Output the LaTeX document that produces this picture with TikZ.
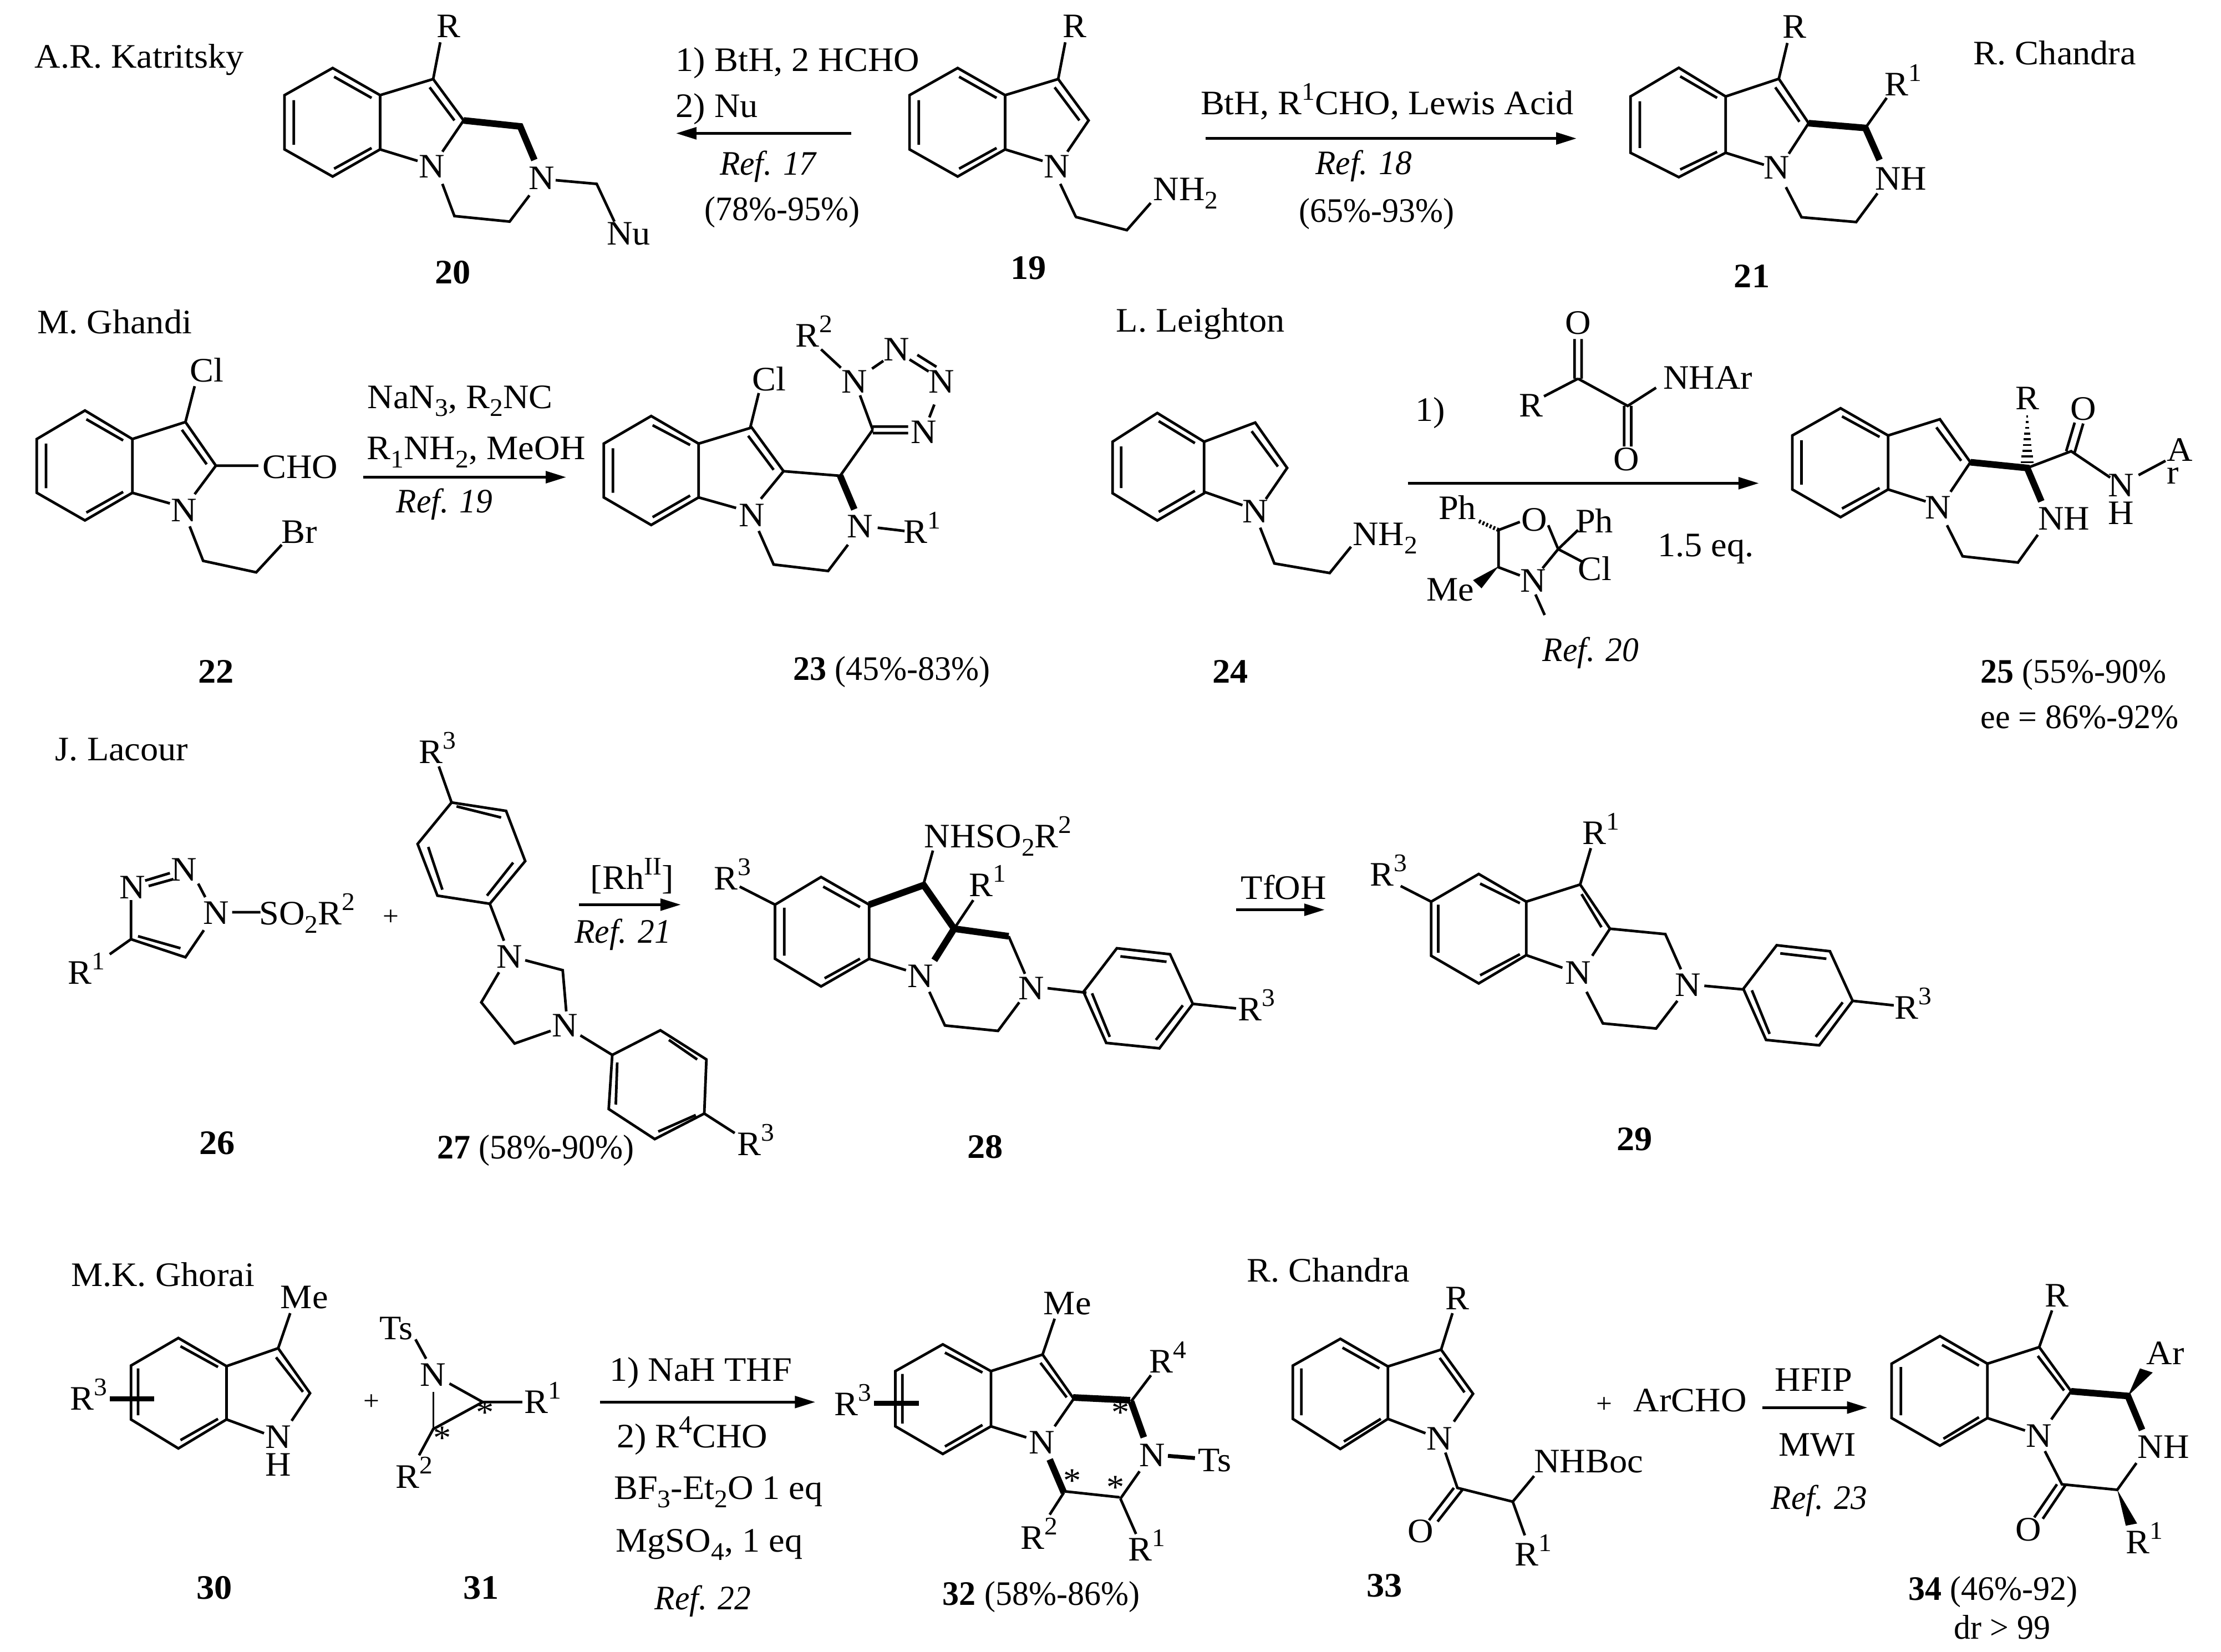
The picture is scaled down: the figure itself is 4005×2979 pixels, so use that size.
\documentclass[tikz,border=0pt]{standalone}
\usepackage{fontspec}
\setmainfont{Liberation Serif}[FakeStretch=1.04]
\newfontfamily\yld{Liberation Serif}[FakeStretch=.97]
\newfontfamily\refi{Liberation Serif}[FakeStretch=.96]
\usetikzlibrary{arrows.meta}
\newcommand\up[1]{\raisebox{.42em}{\fontsize{13}{13}\selectfont #1}}
\newcommand\dn[1]{\raisebox{-.24em}{\fontsize{13}{13}\selectfont #1}}
\newcommand\lb[3]{\node[lab] (#1) at (#2) {#3};}
\newcommand\rf[1]{{\refi\itshape Ref. #1}}
\newcommand\pls{{\fontsize{14}{14}\selectfont +}}
\newcommand\rxn[4]{\coordinate (#1s) at (#2); \coordinate (#1e) at (#3); \draw[rxnarrow] (#1s) -- (#1e);}
\tikzset{
  bond/.style={line width=1.35pt},
  bold/.style={line width=3.4pt},
  hash/.style={line width=1.1pt},
  lab/.style={anchor=base,inner sep=0pt,outer sep=0pt,font=\fontsize{17.6}{21}\selectfont},
  rxnarrow/.style={line width=1.5pt,-{Triangle[length=10.5pt,width=6pt]}},
  zA/.style={x=0.012755cm,y=-0.008291cm},
  zB/.style={shift={(20cm,0)},x=0.012787cm,y=-0.008610cm},
  zC/.style={shift={(0,-13cm)},x=0.012755cm,y=-0.005421cm},
  zD/.style={shift={(20cm,-13cm)},x=0.012787cm,y=-0.005421cm},
  zE/.style={shift={(0,-22cm)},x=0.012755cm,y=-0.004968cm},
  zF/.style={shift={(20cm,-22cm)},x=0.012787cm,y=-0.004968cm},
}
\begin{document}
\begin{tikzpicture}[x=0.01cm,y=-0.01cm]
\useasboundingbox (0,0) rectangle (4005,2979);
\fill[white] (0,0) rectangle (4005,2979);
% ---- joints across zoom panels
\draw[bond] (1939,391)--(2032,415)--(2075,366);
\draw[bold] (1935,2520)--(2038,2525);
\draw[bond] (1917,2689)--(2019,2700);
%
\begin{scope}[zA]
\lb{t1}{197,148}{A.R. Katritsky}
% 20
\lb{c20R}{634,82}{R}
\draw[bond] (470,148)--(537,207)--(537,325)--(470,384)--(402,325)--(402,207)--cycle;
\draw[bond] (472,167)--(525,213) (415,218)--(415,315) (525,322)--(472,367);
\draw[bond] (537,207)--(612,172)--(655,262)--(625,330) (607,190)--(642,262) (537,325)--(590,350) (612,172)--(622,92);
\draw[bold] (655,262)--(735,275)--(755,348);
\lb{c20N}{610,387}{N}
\lb{c20Nb}{765,412}{N}
\draw[bond] (625,400)--(642,470)--(720,482)--(748,425) (785,392)--(843,400)--(868,482);
\lb{c20Nu}{888,533}{Nu}
\lb{c20}{640,617}{\textbf{20}}
\lb{r1a}{1127,155}{1) BtH, 2 HCHO}
\lb{r1b}{1013,255}{2) Nu}
\rxn{ar1}{1203,290}{955,290}{}
\lb{r1c}{1085,380}{\rf{17}}
\lb{r1d}{1105,480}{\yld(78\%-95\%)}
% 19
\draw[bond] (1353,148)--(1420,207)--(1420,325)--(1353,384)--(1285,325)--(1285,207)--cycle;
\draw[bond] (1355,167)--(1408,213) (1298,218)--(1298,315) (1408,322)--(1355,367);
\draw[bond] (1420,207)--(1495,172)--(1538,262)--(1508,330) (1490,190)--(1525,262) (1420,325)--(1473,350) (1495,172)--(1505,92) (1498,400)--(1520,472);
\lb{c19R}{1518,82}{R}
\lb{c19N}{1493,387}{N}
\lb{c19}{1453,607}{\textbf{19}}
% 22
\lb{t3}{162,725}{M. Ghandi}
\lb{c22Cl}{292,830}{Cl}
\draw[bond] (120,893)--(187,955)--(187,1072)--(120,1132)--(52,1072)--(52,955)--cycle;
\draw[bond] (122,912)--(174,958) (65,965)--(65,1062) (174,1070)--(122,1115);
\draw[bond] (187,955)--(262,918)--(305,1013)--(275,1075) (257,935)--(292,1010) (187,1072)--(240,1095) (262,918)--(275,840) (305,1013)--(365,1013) (268,1145)--(287,1220)--(362,1245)--(398,1185);
\lb{c22C}{424,1040}{CHO}
\lb{c22N}{260,1135}{N}
\lb{c22Br}{423,1182}{Br}
\lb{c22}{305,1485}{\textbf{22}}
\lb{r3a}{650,888}{NaN\dn{3}, R\dn{2}NC}
\lb{r3b}{673,1000}{R\dn{1}NH\dn{2}, MeOH}
\rxn{ar3}{513,1038}{800,1038}{}
\lb{r3c}{628,1115}{\rf{19}}
% 23
\lb{c23Cl}{1087,850}{Cl}
\draw[bond] (920,905)--(987,965)--(987,1082)--(920,1142)--(853,1082)--(853,965)--cycle;
\draw[bond] (922,925)--(975,968) (866,975)--(866,1072) (975,1078)--(922,1125);
\draw[bond] (987,965)--(1062,930)--(1107,1025)--(1075,1085) (1057,948)--(1093,1022) (987,1082)--(1040,1105) (1060,930)--(1072,855) (1107,1025)--(1187,1035) (1072,1155)--(1093,1228)--(1170,1242)--(1198,1185) (1240,1148)--(1278,1155);
\draw[bold] (1187,1035)--(1207,1108);
\lb{c23N}{1062,1145}{N}
\lb{c23Nb}{1215,1170}{N}
\lb{c23R}{1303,1182}{R\up{1}}
\draw[bond] (1187,1035)--(1233,935) (1233,928)--(1283,928) (1233,942)--(1283,942) (1320,880)--(1313,908) (1285,782)--(1312,808) (1296,772)--(1323,798) (1248,785)--(1232,802) (1215,860)--(1233,935) (1160,760)--(1188,800);
\lb{c23N1}{1305,965}{N}
\lb{c23N2}{1330,855}{N}
\lb{c23N3}{1267,785}{N}
\lb{c23N4}{1207,855}{N}
\lb{c23Rb}{1150,755}{R\up{2}}
\lb{c23}{1260,1480}{\yld\textbf{23} (45\%-83\%)}
\end{scope}
%
\begin{scope}[zB]
\lb{c19NH}{107,420}{NH\dn{2}}
\lb{r2a}{391,240}{BtH, R\up{1}CHO, Lewis Acid}
\rxn{ar2}{135,290}{658,290}{}
\lb{r2b}{358,365}{\rf{18}}
\lb{r2c}{376,465}{\yld(65\%-93\%)}
% 21
\draw[bond] (802,142)--(868,202)--(868,320)--(802,371)--(734,320)--(734,202)--cycle;
\draw[bond] (804,160)--(856,205) (747,212)--(747,310) (856,318)--(804,355);
\draw[bond] (868,202)--(943,165)--(985,258)--(957,322) (938,183)--(972,255) (868,320)--(922,345) (943,165)--(955,90) (1065,268)--(1095,205) (953,392)--(975,455)--(1052,465)--(1082,405);
\draw[bold] (985,258)--(1065,268)--(1085,335);
\lb{c21R}{965,80}{R}
\lb{c21N}{940,375}{N}
\lb{c21Ra}{1118,200}{R\up{1}}
\lb{c21NH}{1115,398}{NH}
\lb{t2}{1332,135}{R. Chandra}
\lb{c21}{905,602}{\textbf{21}}
% reagents
\lb{t4}{128,695}{L. Leighton}
\lb{oxO}{660,700}{O}
\lb{oxR}{594,873}{R}
\lb{oxN}{843,815}{NHAr}
\lb{oxOb}{728,985}{O}
\lb{oxn}{452,882}{1)}
\draw[bond] (655,710)--(655,793) (665,710)--(665,793) (660,793)--(730,850)--(770,812) (660,793)--(612,830) (725,850)--(725,935) (735,850)--(735,935);
\rxn{ar4}{420,1012}{915,1012}{}
% 24
\draw[bond] (67,865)--(133,925)--(133,1033)--(67,1090)--(4,1033)--(4,925)--cycle;
\draw[bond] (69,882)--(120,928) (16,935)--(16,1022) (120,1028)--(69,1072);
\draw[bond] (133,925)--(205,885)--(250,980)--(220,1045) (200,903)--(237,977) (133,1030)--(187,1058) (212,1105)--(232,1180)--(310,1200)--(340,1145);
\lb{c24N}{205,1095}{N}
\lb{c24NH}{388,1142}{NH\dn{2}}
\lb{c24}{170,1430}{\textbf{24}}
% oxazolidine
\lb{oPh}{490,1088}{Ph}
\lb{oO}{598,1112}{O}
\lb{oPhb}{683,1115}{Ph}
\lb{oCl}{684,1215}{Cl}
\lb{oN}{597,1240}{N}
\lb{oMe}{480,1258}{Me}
\draw[bond] (548,1110)--(578,1093) (618,1100)--(632,1150)--(660,1110) (632,1150)--(668,1178) (632,1150)--(610,1190) (548,1110)--(548,1188)--(578,1205) (600,1245)--(613,1288);
\draw[line width=2pt,dash pattern=on 1pt off 1pt] (548,1110)--(518,1090);
\fill (548,1186)--(512,1215)--(524,1232)--cycle;
\lb{r4b}{840,1165}{1.5 eq.}
\lb{r4c}{678,1385}{\rf{20}}
% 25
\draw[bond] (1030,855)--(1097,912)--(1097,1025)--(1030,1083)--(962,1025)--(962,912)--cycle;
\draw[bond] (1032,872)--(1085,915) (975,922)--(975,1015) (1085,1022)--(1032,1065);
\draw[bond] (1097,912)--(1170,878)--(1213,968)--(1185,1030) (1165,895)--(1200,965) (1097,1025)--(1150,1050) (1293,980)--(1355,945)--(1410,1000) (1348,945)--(1360,885) (1360,947)--(1372,887) (1450,995)--(1488,965) (1180,1100)--(1202,1165)--(1280,1178)--(1308,1120);
\draw[bold] (1213,968)--(1293,980)--(1313,1050);
\foreach \yy/\hw in {968/9,956/8,944/7,932/6,920/5,908/4,896/3,884/2,872/1.5}
  \draw[hash] ({1293-\hw},\yy)--({1293+\hw},\yy);
\lb{c25N}{1167,1087}{N}
\lb{c25R}{1293,858}{R}
\lb{c25O}{1372,880}{O}
\lb{c25Nb}{1425,1040}{N}
\lb{c25H}{1425,1098}{H}
\lb{c25A}{1508,966}{A}
\lb{c25r}{1498,1013}{r}
\lb{c25NH}{1345,1110}{NH}
\lb{c25}{1358,1430}{\yld\textbf{25} (55\%-90\%}
\lb{c25b}{1367,1525}{\yld ee = 86\%-92\%}
\end{scope}
%
\begin{scope}[zC]
\lb{t5}{172,130}{J. Lacour}
% 26
\lb{c26Na}{187,590}{N}
\lb{c26Nb}{260,530}{N}
\lb{c26Nc}{305,675}{N}
\lb{c26S}{434,677}{SO\dn{2}R\up{2}}
\lb{c26R}{122,875}{R\up{1}}
\draw[bond] (205,530)--(240,505) (210,548)--(245,525) (280,540)--(290,585) (328,635)--(368,635) (185,595)--(185,725)--(262,785)--(288,695) (195,715)--(255,755) (185,725)--(155,775);
\lb{c26}{307,1440}{\textbf{26}}
\lb{pl1}{552,678}{\pls}
% 27
\lb{c27Ra}{618,140}{R\up{3}}
\draw[bond] (620,150)--(638,270);
\draw[bond] (638,270)--(715,298)--(742,465)--(692,607)--(618,580)--(590,408)--cycle;
\draw[bond] (645,283)--(708,320) (725,470)--(688,580) (605,418)--(625,560);
\draw[bond] (692,607)--(712,730) (742,795)--(795,828)--(800,965) (705,835)--(680,935)--(727,1072)--(778,1030) (820,1045)--(865,1110);
\lb{c27Na}{720,820}{N}
\lb{c27Nb}{798,1050}{N}
\draw[bond] (865,1110)--(933,1028)--(998,1125)--(995,1305)--(925,1390)--(860,1290)--cycle;
\draw[bond] (945,1060)--(985,1125) (983,1310)--(930,1365) (872,1135)--(870,1275) (995,1305)--(1038,1370);
\lb{c27Rb}{1068,1445}{R\up{3}}
\lb{c27}{757,1455}{\yld\textbf{27} (58\%-90\%)}
\lb{c28}{1392,1453}{\textbf{28}}
\lb{r5a}{893,558}{[Rh\up{II}]}
\rxn{ar5}{818,610}{962,610}{}
\lb{r5b}{880,737}{\rf{21}}
% 28
\lb{c28Ra}{1035,560}{R\up{3}}
\draw[bond] (1045,550)--(1095,610);
\draw[bond] (1160,518)--(1228,610)--(1228,790)--(1160,882)--(1095,790)--(1095,610)--cycle;
\draw[bond] (1163,550)--(1215,618) (1108,620)--(1108,780) (1215,790)--(1165,855);
\lb{c28S}{1410,420}{NHSO\dn{2}R\up{2}}
\draw[bond] (1318,430)--(1305,540) (1348,690)--(1375,595) (1228,790)--(1280,828) (1425,715)--(1448,840) (1313,900)--(1335,1012)--(1410,1030)--(1440,935) (1480,888)--(1535,903);
\draw[bold] (1228,610)--(1305,545)--(1348,690)--(1425,715) (1348,690)--(1320,795);
\lb{c28R}{1395,582}{R\up{1}}
\lb{c28N}{1300,885}{N}
\lb{c28Nb}{1457,925}{N}
\end{scope}
%
\begin{scope}[zD]
% 28 aryl
\draw[bond] (-37,900)--(10,755)--(85,775)--(117,940)--(70,1088)--(-5,1070)--cycle;
\draw[bond] (15,782)--(80,800) (103,945)--(65,1060) (-25,905)--(0,1050) (117,940)--(178,955);
\lb{c28Rc}{207,995}{R\up{3}}
\lb{r6}{245,592}{TfOH}
\rxn{ar6}{178,627}{303,627}{}
% 29
\lb{c29Ra}{692,410}{R\up{1}}
\lb{c29Rb}{393,548}{R\up{3}}
\draw[bond] (678,422)--(663,543) (410,548)--(453,600);
\draw[bond] (520,508)--(587,600)--(587,778)--(520,872)--(453,780)--(453,600)--cycle;
\draw[bond] (522,540)--(578,605) (463,610)--(463,770) (578,775)--(522,845);
\draw[bond] (587,600)--(663,543)--(705,690)--(680,780) (665,575)--(693,685) (587,778)--(638,820) (705,690)--(783,708)--(805,825) (672,900)--(695,1005)--(770,1022)--(800,930) (838,880)--(893,892);
\lb{c29N}{660,875}{N}
\lb{c29Nb}{815,915}{N}
\draw[bond] (893,890)--(940,745)--(1015,765)--(1047,930)--(1000,1078)--(925,1060)--cycle;
\draw[bond] (945,772)--(1010,790) (1033,935)--(995,1050) (905,895)--(930,1040) (1047,930)--(1105,945);
\lb{c29Rc}{1132,990}{R\up{3}}
\lb{c29}{740,1428}{\textbf{29}}
\end{scope}
%
\begin{scope}[zE]
\lb{t6}{230,237}{M.K. Ghorai}
% 30
\lb{c30Me}{430,318}{Me}
\draw[bond] (410,335)--(393,462);
\draw[bond] (252,425)--(320,527)--(320,720)--(252,825)--(185,720)--(185,525)--cycle;
\draw[bond] (255,455)--(308,530) (195,535)--(195,705) (308,718)--(255,795);
\draw[bond] (320,527)--(393,462)--(438,625)--(412,725) (390,495)--(428,620) (320,720)--(373,770);
\draw[line width=2.6pt] (155,645)--(218,645);
\lb{c30N}{393,825}{N}
\lb{c30H}{393,925}{H}
\lb{c30R}{125,685}{R\up{3}}
\lb{pl2}{525,685}{\pls}
% 31
\lb{c31Ts}{560,430}{Ts}
\lb{c31N}{612,600}{N}
\lb{c31Ra}{767,698}{R\up{1}}
\lb{c31Rb}{585,968}{R\up{2}}
\draw[bond] (587,430)--(602,500) (635,590)--(682,657)--(612,755)--(592,850) (682,657)--(738,657);
\draw[line width=.9pt] (612,620)--(612,755);
\lb{c31s1}{685,735}{*}
\lb{c31s2}{625,828}{*}
\lb{c30}{303,1370}{\textbf{30}}
\lb{c31}{680,1370}{\textbf{31}}
\lb{r7a}{990,582}{1) NaH THF}
\rxn{ar7}{848,657}{1152,657}{}
\lb{r7b}{978,822}{2) R\up{4}CHO}
\lb{r7c}{1015,1010}{BF\dn{3}-Et\dn{2}O 1 eq}
\lb{r7d}{1002,1200}{MgSO\dn{4}, 1 eq}
\lb{r7e}{993,1408}{\rf{22}}
\lb{c32}{1471,1392}{\yld\textbf{32} (58\%-86\%)}
% 32
\lb{c32Me}{1508,340}{Me}
\draw[bond] (1490,355)--(1473,485);
\draw[bond] (1332,448)--(1400,545)--(1400,745)--(1332,845)--(1265,745)--(1265,545)--cycle;
\draw[bond] (1335,478)--(1388,550) (1275,555)--(1275,735) (1388,740)--(1335,818);
\draw[bond] (1400,545)--(1473,485)--(1517,645)--(1490,745) (1470,515)--(1507,640) (1400,745)--(1450,785) (1503,985)--(1483,1065);
\draw[line width=2.6pt] (1235,662)--(1298,662);
\draw[bold] (1483,865)--(1503,985);
\lb{c32N}{1472,845}{N}
\lb{c32Ra}{1205,705}{R\up{3}}
\lb{c32s1}{1515,982}{*}
\lb{c32Rb}{1468,1190}{R\up{2}}
\end{scope}
%
\begin{scope}[zF]
\draw[bold] (30,655)--(48,785);
\draw[bond] (15,1007)--(42,908) (15,1007)--(37,1135) (30,655)--(58,560);
\draw[line width=2pt] (82,852)--(120,860);
\lb{c32Nb}{60,890}{N}
\lb{c32s2}{15,735}{*}
\lb{c32s3}{8,1008}{*}
\lb{c32Rc}{52,1232}{R\up{1}}
\lb{c32Rd}{82,550}{R\up{4}}
\lb{c32Ts}{148,908}{Ts}
\lb{t7}{308,222}{R. Chandra}
% 33
\lb{c33R}{490,322}{R}
\draw[bond] (483,335)--(467,467);
\draw[bond] (325,428)--(392,528)--(392,718)--(325,827)--(258,718)--(258,525)--cycle;
\draw[bond] (328,460)--(380,535) (270,535)--(270,705) (382,718)--(330,800);
\draw[bond] (392,528)--(467,467)--(512,627)--(485,728) (465,497)--(500,622) (392,718)--(445,770) (473,840)--(490,968)--(568,1018)--(598,925) (568,1018)--(585,1140) (485,968)--(450,1085) (497,975)--(462,1090);
\lb{c33N}{465,830}{N}
\lb{c33NH}{675,912}{NHBoc}
\lb{c33Ra}{597,1250}{R\up{1}}
\lb{c33O}{438,1165}{O}
\lb{c33}{387,1362}{\textbf{33}}
\lb{pl3}{697,695}{\pls}
\lb{c33A}{818,692}{ArCHO}
\lb{r8a}{992,618}{HFIP}
\rxn{ar8}{920,677}{1068,677}{}
\lb{r8b}{997,852}{MWI}
\lb{r8c}{1000,1045}{\rf{23}}
% 34
\lb{c34R}{1335,312}{R}
\draw[bond] (1328,325)--(1310,458);
\draw[bond] (1170,418)--(1237,518)--(1237,715)--(1170,815)--(1102,715)--(1102,518)--cycle;
\draw[bond] (1173,450)--(1225,525) (1115,530)--(1115,705) (1225,712)--(1175,790);
\draw[bond] (1237,518)--(1310,458)--(1355,618)--(1327,720) (1308,490)--(1345,615) (1237,715)--(1290,760) (1318,835)--(1342,955)--(1420,975)--(1447,878) (1335,955)--(1303,1075) (1347,958)--(1315,1080);
\draw[bold] (1355,618)--(1435,635)--(1455,758);
\fill (1435,635)--(1452,535)--(1470,550)--cycle;
\fill (1420,975)--(1432,1105)--(1448,1097)--cycle;
\lb{c34N}{1310,820}{N}
\lb{c34Ar}{1488,520}{Ar}
\lb{c34NH}{1485,860}{NH}
\lb{c34O}{1295,1160}{O}
\lb{c34Ra}{1458,1205}{R\up{1}}
\lb{c34}{1245,1375}{\yld\textbf{34} (46\%-92)}
\lb{c34b}{1258,1515}{\yld dr > 99}
\end{scope}
\end{tikzpicture}
\end{document}
